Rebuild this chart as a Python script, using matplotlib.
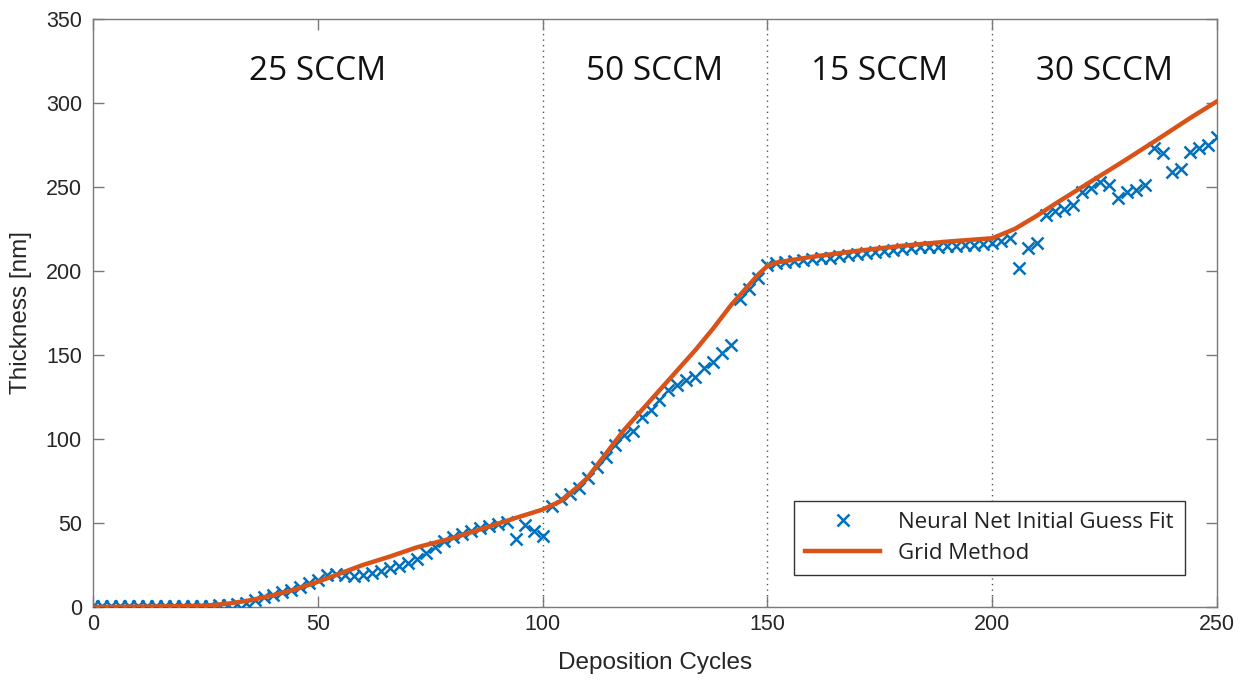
import numpy as np
import matplotlib
matplotlib.use("Agg")
import matplotlib.pyplot as plt

# Neural-net fit: one estimate every 2 deposition cycles
nn_cycles = np.arange(0, 251, 2)
nn_thickness = [
    0.3, 0.3, 0.3, 0.4, 0.4, 0.4, 0.5, 0.5, 0.5, 0.6, 0.6, 0.7, 0.7, 0.8, 0.9, 1.0,
    1.5, 2.5, 4.0, 6.0, 7.0, 9.0, 10.0, 12.0, 14.0, 16.0,
    19.0, 19.5, 19.0, 18.5, 19.0, 20.0, 21.5, 23.0, 24.5, 26.0,
    28.5, 32.0, 36.0, 39.0, 41.5, 43.5, 45.0, 47.0, 48.0, 49.5,
    50.5, 40.5, 49.0, 45.5, 42.0,
    60.0, 64.0, 67.0, 71.0, 76.5, 83.5, 89.5, 96.5, 102.5, 104.5,
    113.0, 117.0, 123.0, 129.0, 132.0, 135.0, 137.0, 142.0, 146.0, 151.0,
    156.0, 183.5, 189.5, 196.0, 203.5,
    205.0, 205.5, 206.0, 206.5, 207.0, 207.5, 208.0, 209.0, 209.5, 210.0,
    211.0, 211.5, 212.0, 212.5, 213.0, 213.5, 214.0, 214.0, 214.5, 215.0,
    215.0, 215.5, 215.5, 216.0, 216.5,
    218.0, 219.5, 201.5, 213.5, 216.5, 233.5, 236.0, 237.0, 239.0, 247.0,
    249.5, 253.0, 251.0, 243.5, 247.0, 248.5, 251.0, 273.0, 270.0, 259.0,
    261.0, 271.0, 273.5, 275.0, 280.0,
]

# Grid-method fit
grid_cycles = [0, 10, 20, 25, 30, 35, 40, 45, 50, 55, 60, 66, 72, 80, 88, 94, 100,
               104, 108, 110, 114, 118, 122, 126, 130, 134, 138, 142, 146, 148, 150,
               152, 160, 170, 180, 190, 200,
               205, 210, 214, 220, 229, 236, 244, 250]
grid_thickness = [0.0, 0.2, 0.5, 0.8, 2.0, 4.0, 7.0, 10.5, 15.0, 20.0, 25.0, 30.0, 35.5, 41.0, 47.8, 53.0, 58.0,
                  63.0, 72.0, 77.0, 91.0, 105.0, 117.0, 129.0, 141.0, 153.0, 166.0, 180.0, 192.0, 198.0, 203.0,
                  205.0, 208.5, 212.0, 215.0, 217.5, 219.5,
                  225.0, 233.0, 240.0, 250.0, 265.0, 277.0, 291.0, 301.0]

# Flow-rate regimes
regime_bounds = [100, 150, 200]
regime_labels = ["25 SCCM", "50 SCCM", "15 SCCM", "30 SCCM"]
regime_centers = [50, 125, 175, 225]

blue = "#0072BD"
orange = "#D95319"
axis_grey = "#262626"

fig = plt.figure(figsize=(12.47, 6.81), dpi=100)
ax = fig.add_axes([93 / 1247, 1 - 607 / 681, (1217 - 93) / 1247, (607 - 19) / 681])

for xb in regime_bounds:
    ax.axvline(xb, color="#555555", linestyle=(0, (1, 3)), linewidth=1.0, zorder=1)

ax.plot(nn_cycles, nn_thickness, linestyle="none", marker="x", color=blue,
        markersize=8, markeredgewidth=1.8, label="Neural Net Initial Guess Fit", zorder=3)
ax.plot(grid_cycles, grid_thickness, color=orange, linewidth=3.2,
        label="Grid Method", zorder=4)

for xc, lab in zip(regime_centers, regime_labels):
    ax.text(xc, 318.5, lab, ha="center", va="center", fontsize=24,
            family="Open Sans", color="#111111")

ax.set_xlim(0, 250)
ax.set_ylim(0, 350)
ax.set_xticks(np.arange(0, 251, 50))
ax.set_yticks(np.arange(0, 351, 50))
ax.tick_params(direction="in", top=True, right=True, length=8, width=1.0,
               colors="#7a7a7a", labelcolor=axis_grey, labelsize=15.5)
ax.tick_params(axis="y", pad=8)
ax.tick_params(axis="x", pad=5)
for lbl in ax.get_xticklabels() + ax.get_yticklabels():
    lbl.set_family("Liberation Sans")
for sp in ax.spines.values():
    sp.set_color("#7a7a7a")
    sp.set_linewidth(1.0)

ax.set_xlabel("Deposition Cycles", fontsize=17.5, family="Liberation Sans",
              color=axis_grey, labelpad=12)
ax.set_ylabel("Thickness [nm]", fontsize=17.5, family="Liberation Sans",
              color=axis_grey, labelpad=10)

leg = ax.legend(loc="lower right", bbox_to_anchor=(0.9715, 0.054),
                prop={"family": "Open Sans", "size": 16},
                frameon=True, fancybox=False, framealpha=1, edgecolor="#333333",
                handlelength=3.4, borderpad=0.5, labelspacing=0.45, handletextpad=0.8,
                borderaxespad=0.0)
leg.get_frame().set_linewidth(1.0)
for t in leg.get_texts():
    t.set_color("#222222")

fig.savefig("out.png", dpi=100)
